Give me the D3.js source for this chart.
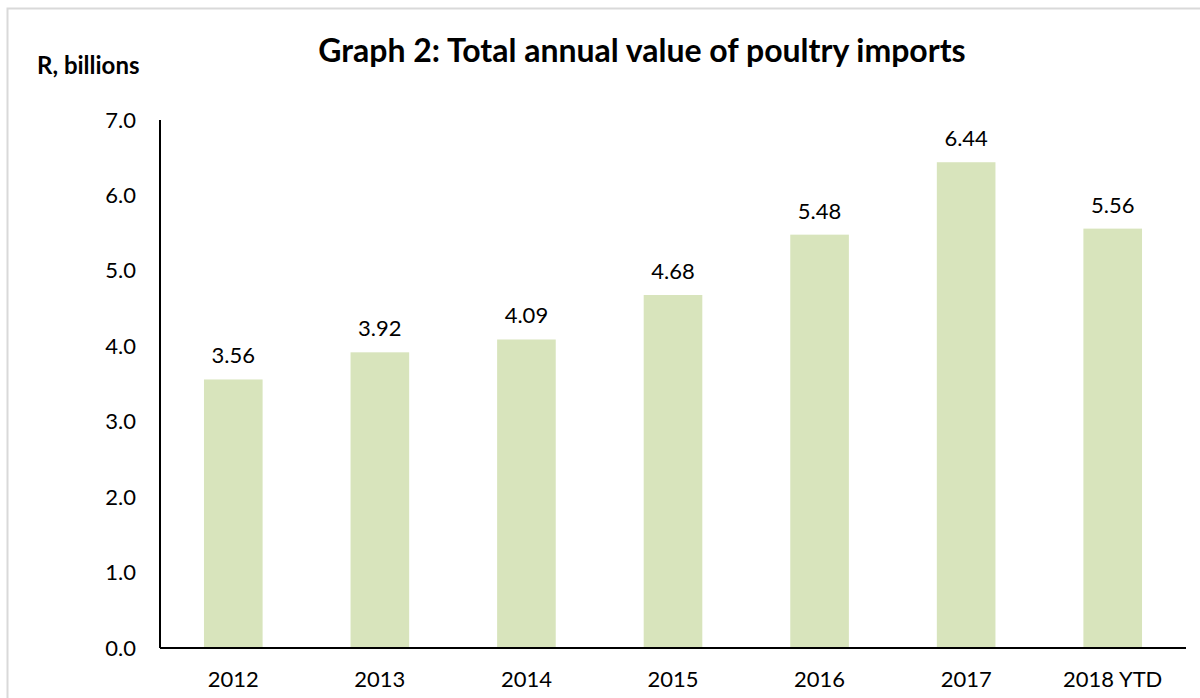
<!DOCTYPE html>
<html lang="en">
<head>
    <style>
        body { margin: 0; background: #fff; }
        text { font-family: Lato, "Open Sans", sans-serif; fill: #000; }
        .bar { fill: #d8e4bc; }
        .axis path { stroke: #000; stroke-width: 2; }
        .axis line { display: none; }
    </style>
    <script src="https://cdn.jsdelivr.net/npm/d3@7"></script>
</head>
<body>
    <svg id="chartContainer" width="1200" height="698"></svg>
<script>
    var years = ["2012", "2013", "2014", "2015", "2016", "2017", "2018 YTD"];
    var values = [3.56, 3.92, 4.09, 4.68, 5.48, 6.44, 5.56];
    var yTicks = [0, 1, 2, 3, 4, 5, 6, 7];

    var svg = d3.select("svg");

    // chart frame
    svg.append("path")
       .attr("d", "M7.5,698 V8.5 H1200")
       .attr("fill", "none")
       .attr("stroke", "#d9d9d9")
       .attr("stroke-width", 2);

    var plotLeft = 160, plotRight = 1186, plotTop = 120, plotBottom = 648;

    var xScale = d3.scaleBand().domain(years).range([plotLeft, plotRight]).paddingInner(0.6).paddingOuter(0.3),
        yScale = d3.scaleLinear().domain([0, 7]).range([plotBottom, plotTop]);

    svg.append("text")
       .attr("x", 642).attr("y", 62)
       .attr("text-anchor", "middle")
       .style("font-weight", "bold").style("font-size", "32px")
       .text("Graph 2: Total annual value of poultry imports");

    svg.append("text")
       .attr("x", 37).attr("y", 74)
       .style("font-weight", "bold").style("font-size", "24px")
       .text("R, billions");

    svg.selectAll(".bar")
       .data(values)
       .enter().append("rect")
       .attr("class", "bar")
       .attr("x", function(d, i) { return xScale(years[i]); })
       .attr("y", function(d) { return yScale(d); })
       .attr("width", xScale.bandwidth())
       .attr("height", function(d) { return plotBottom - yScale(d); });

    svg.selectAll(".val")
       .data(values)
       .enter().append("text")
       .attr("class", "val")
       .attr("x", function(d, i) { return xScale(years[i]) + xScale.bandwidth() / 2; })
       .attr("y", function(d) { return yScale(d) - 16; })
       .attr("text-anchor", "middle")
       .style("font-size", "22px")
       .text(function(d) { return d.toFixed(2); });

    // Y axis
    var yAxis = svg.append("g")
       .attr("class", "axis")
       .attr("transform", "translate(" + plotLeft + ",0)")
       .call(d3.axisLeft(yScale).tickValues(yTicks).tickSize(0).tickPadding(24)
             .tickFormat(function(d) { return d.toFixed(1); }));
    yAxis.selectAll("text").style("font-size", "22px");

    // X axis
    var xAxis = svg.append("g")
       .attr("class", "axis")
       .attr("transform", "translate(0," + plotBottom + ")")
       .call(d3.axisBottom(xScale).tickSize(0).tickPadding(23));
    xAxis.selectAll("text").style("font-size", "22px");
    xAxis.select("path").attr("d", "M" + plotLeft + ",0H" + plotRight);
    yAxis.select("path").attr("d", "M0," + plotTop + "V" + plotBottom);
</script>
</body>
</html>
